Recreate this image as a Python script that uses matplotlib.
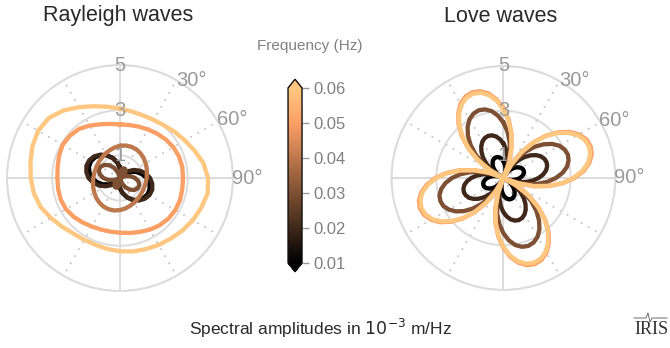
import numpy as np
import matplotlib
matplotlib.use('Agg')
import matplotlib.pyplot as plt
from matplotlib.colors import Normalize
from matplotlib.cm import ScalarMappable
from matplotlib.ticker import FormatStrFormatter
from matplotlib.lines import Line2D

plt.rcParams['font.family'] = ['Liberation Sans', 'DejaVu Sans']
plt.rcParams['mathtext.fontset'] = 'dejavusans'

# frequency colour scale
CBAR_TICKS = [0.01, 0.02, 0.03, 0.04, 0.05, 0.06]
R_TICKS = [1, 3, 5]

# Rayleigh amplitudes (1e-3 m/Hz), one value every 10 degrees of azimuth
rayleigh_az = np.arange(0, 360, 10)
rayleigh_freqs = [0.01, 0.02, 0.03, 0.04, 0.05, 0.06]
rayleigh_001 = [0.46, 0.24, 0.07, 0.01, 0.13, 0.33, 0.55, 0.78, 0.99, 1.18, 1.32, 1.40,
                1.42, 1.37, 1.27, 1.11, 0.91, 0.69, 0.48, 0.25, 0.08, 0.01, 0.14, 0.34,
                0.57, 0.81, 1.04, 1.23, 1.37, 1.46, 1.48, 1.43, 1.32, 1.16, 0.95, 0.72]
rayleigh_002 = [0.42, 0.22, 0.07, 0.09, 0.25, 0.47, 0.71, 0.94, 1.16, 1.33, 1.45, 1.52,
                1.51, 1.43, 1.30, 1.12, 0.90, 0.66, 0.44, 0.22, 0.07, 0.09, 0.26, 0.49,
                0.73, 0.98, 1.20, 1.39, 1.51, 1.58, 1.57, 1.49, 1.35, 1.16, 0.93, 0.68]
rayleigh_003 = [0.21, 0.37, 0.46, 0.46, 0.37, 0.21, 0.00, 0.24, 0.47, 0.67, 0.83, 0.91,
                0.91, 0.83, 0.67, 0.47, 0.24, 0.00, 0.21, 0.37, 0.46, 0.46, 0.37, 0.21,
                0.00, 0.26, 0.52, 0.74, 0.90, 1.00, 1.00, 0.90, 0.74, 0.52, 0.26, 0.00]
rayleigh_004 = [1.42, 1.46, 1.47, 1.46, 1.42, 1.37, 1.31, 1.26, 1.21, 1.18, 1.16, 1.15,
                1.16, 1.18, 1.21, 1.26, 1.31, 1.37, 1.42, 1.46, 1.47, 1.46, 1.42, 1.37,
                1.31, 1.26, 1.21, 1.18, 1.16, 1.15, 1.16, 1.18, 1.21, 1.26, 1.31, 1.37]
rayleigh_005 = [2.37, 2.38, 2.42, 2.48, 2.56, 2.65, 2.73, 2.78, 2.80, 2.79, 2.80, 2.83,
                2.83, 2.80, 2.73, 2.64, 2.54, 2.47, 2.42, 2.41, 2.43, 2.48, 2.57, 2.67,
                2.76, 2.79, 2.78, 2.77, 2.80, 2.87, 2.93, 2.90, 2.83, 2.68, 2.53, 2.43]
rayleigh_006 = [3.07, 2.99, 2.95, 2.97, 3.04, 3.17, 3.32, 3.52, 3.75, 3.90, 3.94, 3.83,
                3.73, 3.61, 3.50, 3.42, 3.35, 3.30, 3.24, 3.19, 3.15, 3.16, 3.21, 3.35,
                3.53, 3.74, 3.87, 3.95, 4.02, 4.12, 4.18, 4.12, 3.90, 3.62, 3.38, 3.20]

# Love amplitudes, one value every 5 degrees of azimuth
love_az = np.arange(0, 360, 5)
love_freqs = [0.01, 0.02, 0.03, 0.05, 0.06]
love_001 = [0.75, 0.63, 0.49, 0.34, 0.17, 0.00,
            0.17, 0.33, 0.48, 0.62, 0.74, 0.83, 0.90, 0.95, 0.96, 0.95, 0.90, 0.83,
            0.74, 0.62, 0.48, 0.33, 0.17, 0.00,
            0.17, 0.34, 0.50, 0.64, 0.77, 0.87, 0.94, 0.99, 1.00, 0.99, 0.94, 0.87,
            0.77, 0.64, 0.50, 0.34, 0.17, 0.00,
            0.17, 0.32, 0.48, 0.61, 0.73, 0.82, 0.89, 0.94, 0.95, 0.94, 0.89, 0.82,
            0.73, 0.61, 0.48, 0.32, 0.17, 0.00,
            0.17, 0.34, 0.49, 0.63, 0.75, 0.85, 0.92, 0.97, 0.98, 0.97, 0.92, 0.85]
love_002 = [1.53, 1.29, 1.00, 0.68, 0.35, 0.00,
            0.36, 0.70, 1.03, 1.32, 1.57, 1.78, 1.93, 2.02, 2.05, 2.02, 1.93, 1.78,
            1.57, 1.32, 1.03, 0.70, 0.36, 0.00,
            0.35, 0.68, 1.00, 1.29, 1.53, 1.73, 1.88, 1.97, 2.00, 1.97, 1.88, 1.73,
            1.53, 1.29, 1.00, 0.68, 0.35, 0.00,
            0.33, 0.64, 0.94, 1.21, 1.44, 1.63, 1.77, 1.85, 1.88, 1.85, 1.77, 1.63,
            1.44, 1.21, 0.94, 0.64, 0.33, 0.00,
            0.35, 0.68, 1.00, 1.29, 1.53, 1.73, 1.88, 1.97, 2.00, 1.97, 1.88, 1.73]
love_003 = [2.47, 2.07, 1.61, 1.10, 0.56, 0.00,
            0.53, 1.05, 1.53, 1.97, 2.34, 2.65, 2.88, 3.01, 3.06, 3.01, 2.88, 2.65,
            2.34, 1.97, 1.53, 1.05, 0.53, 0.00,
            0.56, 1.10, 1.62, 2.08, 2.47, 2.80, 3.04, 3.18, 3.23, 3.18, 3.04, 2.80,
            2.47, 2.08, 1.62, 1.10, 0.56, 0.00,
            0.52, 1.03, 1.50, 1.93, 2.30, 2.60, 2.82, 2.96, 3.00, 2.96, 2.82, 2.60,
            2.30, 1.93, 1.50, 1.03, 0.52, 0.00,
            0.56, 1.10, 1.61, 2.07, 2.47, 2.79, 3.03, 3.17, 3.22, 3.17, 3.03, 2.79]
love_005 = [3.12, 2.62, 2.04, 1.39, 0.71, 0.00,
            0.72, 1.42, 2.07, 2.66, 3.17, 3.59, 3.89, 4.08, 4.14, 4.08, 3.89, 3.59,
            3.17, 2.66, 2.07, 1.42, 0.72, 0.00,
            0.71, 1.40, 2.05, 2.63, 3.13, 3.54, 3.84, 4.03, 4.09, 4.03, 3.84, 3.54,
            3.13, 2.63, 2.05, 1.40, 0.71, 0.00,
            0.69, 1.36, 1.99, 2.55, 3.04, 3.44, 3.73, 3.91, 3.97, 3.91, 3.73, 3.44,
            3.04, 2.55, 1.99, 1.36, 0.69, 0.00,
            0.71, 1.39, 2.04, 2.62, 3.12, 3.52, 3.83, 4.01, 4.07, 4.01, 3.83, 3.52]
love_006 = [3.06, 2.57, 2.00, 1.37, 0.70, 0.00,
            0.71, 1.39, 2.04, 2.62, 3.12, 3.52, 3.83, 4.01, 4.07, 4.01, 3.83, 3.52,
            3.12, 2.62, 2.04, 1.39, 0.71, 0.00,
            0.70, 1.37, 2.01, 2.58, 3.08, 3.48, 3.78, 3.96, 4.02, 3.96, 3.78, 3.48,
            3.08, 2.58, 2.01, 1.37, 0.70, 0.00,
            0.68, 1.33, 1.95, 2.51, 2.99, 3.38, 3.67, 3.84, 3.90, 3.84, 3.67, 3.38,
            2.99, 2.51, 1.95, 1.33, 0.68, 0.00,
            0.70, 1.37, 2.00, 2.57, 3.06, 3.46, 3.76, 3.94, 4.00, 3.94, 3.76, 3.46]

rayleigh_curves = [rayleigh_001, rayleigh_002, rayleigh_003,
                   rayleigh_004, rayleigh_005, rayleigh_006]
love_curves = [love_001, love_002, love_003, love_005, love_006]

cmap = plt.get_cmap('copper')
norm = Normalize(vmin=0.01, vmax=0.06)

GRID = '#dcdcdc'
DOTS = '#c6c6c6'
LABEL = '#9a9a9a'

# angular labels: (text, azimuth, radius) just outside the rim
THETA_LABELS = [('30°', 36.3, 5.38), ('60°', 62.6, 5.58), ('90°', 90.0, 5.62)]


def style_polar(ax):
    ax.set_theta_zero_location('N')
    ax.set_theta_direction(-1)
    ax.set_ylim(0, 5)
    ax.set_rgrids(R_TICKS, labels=[''] * len(R_TICKS))
    ax.set_thetagrids(np.arange(0, 360, 30), labels=[''] * 12)
    ax.tick_params(length=0, pad=0)
    ax.spines['polar'].set_color(GRID)
    ax.spines['polar'].set_linewidth(1.4)
    ax.yaxis.grid(True, color=GRID, lw=1.4)
    for loc, line in zip(ax.get_xticks(), ax.xaxis.get_gridlines()):
        if round(np.rad2deg(loc)) % 90 == 0:
            line.set(color=GRID, lw=1.4, ls='-')
        else:
            line.set(color=DOTS, lw=1.3, ls=(0, (1, 3.5)))
    # radial labels sit above the traces
    for r in R_TICKS:
        ax.text(0, r, str(r), ha='center', va='center', fontsize=14.5,
                color=LABEL, zorder=5)
    for lab, th, r in THETA_LABELS:
        ax.text(np.deg2rad(th), r, lab, ha='center', va='center',
                fontsize=14.5, color=LABEL)


def draw_curves(ax, az, curves, freqs):
    theta = np.deg2rad(np.append(az, az[0]))
    for f, r in zip(freqs, curves):
        ax.plot(theta, np.append(r, r[0]), color=cmap(norm(f)), lw=3.1,
                solid_joinstyle='round', zorder=3)


fig = plt.figure(figsize=(6.7, 3.48), dpi=100)

ax_r = fig.add_axes([0.0104, 0.1638, 0.3373, 0.6494], projection='polar')
style_polar(ax_r)
draw_curves(ax_r, rayleigh_az, rayleigh_curves, rayleigh_freqs)

ax_l = fig.add_axes([0.5843, 0.1667, 0.3343, 0.6437], projection='polar')
style_polar(ax_l)
draw_curves(ax_l, love_az, love_curves, love_freqs)

fig.text(118 / 670, 1 - 16 / 348, 'Rayleigh waves', ha='center', va='center',
         fontsize=15.5, color='#2a2a2a')
fig.text(501 / 670, 1 - 17 / 348, 'Love waves', ha='center', va='center',
         fontsize=15.5, color='#2a2a2a')

# colour bar with both ends extended
cax = fig.add_axes([0.4299, 0.2191, 0.0209, 0.5532])
cb = fig.colorbar(ScalarMappable(norm=norm, cmap=cmap), cax=cax,
                  extend='both', ticks=CBAR_TICKS)
cb.ax.yaxis.set_major_formatter(FormatStrFormatter('%.2f'))
cb.outline.set_edgecolor('#111111')
cb.outline.set_linewidth(1.0)
cb.ax.tick_params(colors='#9a9a9a', labelcolor='#808080', labelsize=12,
                  length=5, width=1)
fig.text(310 / 670, 1 - 46 / 348, 'Frequency (Hz)', ha='center', va='center',
         fontsize=11, color='#808080')

fig.text(321 / 670, 1 - 328 / 348, r'Spectral amplitudes in $10^{-3}$ m/Hz',
         ha='center', va='center', fontsize=12.5, color='#2a2a2a')

# IRIS logo
fig.text(651 / 670, 1 - 330 / 348, 'IRIS', family=['Liberation Serif', 'DejaVu Serif'],
         fontsize=13, ha='center', va='center', color='#333333')
fig.add_artist(Line2D([634 / 670, 646 / 670, 648 / 670, 650 / 670, 652 / 670, 667 / 670],
                      [1 - 318 / 348, 1 - 318 / 348, 1 - 313 / 348, 1 - 322 / 348,
                       1 - 318 / 348, 1 - 318 / 348],
                      transform=fig.transFigure, color='#555555', lw=0.6))

fig.savefig('out.png', dpi=100)
